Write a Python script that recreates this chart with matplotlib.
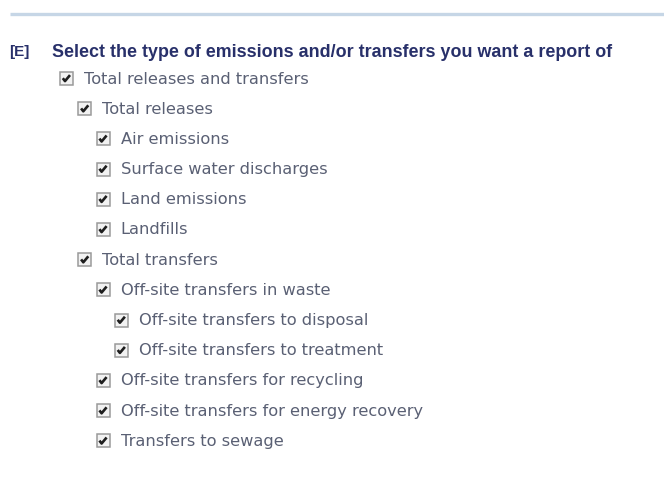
import matplotlib
matplotlib.use("Agg")
import matplotlib.pyplot as plt
from matplotlib.patches import Rectangle

header_tag = "[E]"
header_text = "Select the type of emissions and/or transfers you want a report of"
labels = [
    "Total releases and transfers",
    "Total releases",
    "Air emissions",
    "Surface water discharges",
    "Land emissions",
    "Landfills",
    "Total transfers",
    "Off-site transfers in waste",
    "Off-site transfers to disposal",
    "Off-site transfers to treatment",
    "Off-site transfers for recycling",
    "Off-site transfers for energy recovery",
    "Transfers to sewage",
]
levels = [0, 1, 2, 2, 2, 2, 1, 2, 3, 3, 2, 2, 2]
checked = [True] * len(labels)

W, H = 664, 503
fig = plt.figure(figsize=(W / 100, H / 100), dpi=100)
ax = fig.add_axes([0, 0, 1, 1])
ax.set_xlim(0, W)
ax.set_ylim(H, 0)
ax.axis("off")

# top separator
ax.plot([10, W], [14, 14], color="#c6d6e6", lw=2.4, solid_capstyle="butt")

hdr_color = "#28306a"
ax.text(9, 52, header_tag, fontsize=11, fontweight="bold", color=hdr_color,
        va="center", ha="left", family="Liberation Sans")
ax.text(52, 52, header_text, fontsize=12.9, fontweight="bold", color=hdr_color,
        va="center", ha="left", family="Liberation Sans")

y0, dy = 78.5, 30.2
x0, dx = 60, 18.3
box = 13
txt_color = "#5a6074"
for i, (lab, lv, ck) in enumerate(zip(labels, levels, checked)):
    y = y0 + i * dy
    x = x0 + lv * dx
    ax.add_patch(Rectangle((x, y - box / 2), box, box, facecolor="#f2f2f2",
                           edgecolor="#9a9a9a", lw=1.1))
    if ck:
        ax.plot([x + 2.8, x + 5.0, x + 10.0], [y - 0.3, y + 2.6, y - 3.4],
                color="#1e1e1e", lw=1.9, solid_capstyle="butt")
    ax.text(x + 24, y + 0.5, lab, fontsize=11.7, color=txt_color,
            va="center", ha="left", family="DejaVu Sans")

fig.savefig("out.png", dpi=100, facecolor="white")
